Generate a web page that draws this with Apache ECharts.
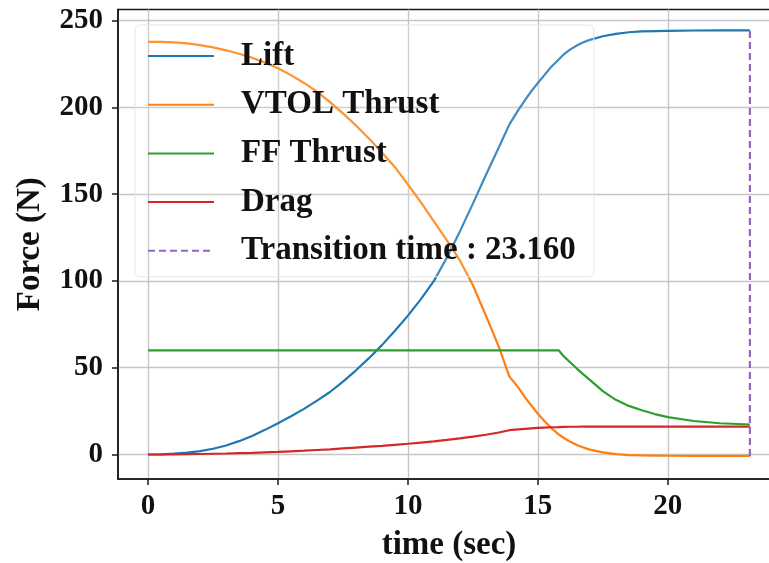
<!DOCTYPE html>
<html>
<head>
<meta charset="utf-8">
<script src="https://cdn.jsdelivr.net/npm/echarts@6/dist/echarts.min.js"></script>
<style>html,body{margin:0;padding:0;background:#fff;}#c{width:769px;height:563px;}</style>
</head>
<body>
<div id="c"></div>
<script>
// time samples (sec)
const time = [0,0.5,1,1.5,2,2.5,3,3.5,4,4.5,5,5.5,6,6.5,7,7.5,8,8.5,9,9.5,10,10.5,11,11.5,12,12.5,13,13.5,
  13.9,14.25,14.5,14.75,15,15.25,15.5,15.8,16,16.25,16.5,16.75,17,
  17.5,18,18.5,19,19.5,20,21,22,23.16];
const lift = [0,0.1,0.5,1.1,2.0,3.3,5.2,7.7,10.7,14.2,18,22,26.3,31,36,42,48.5,55.5,63,71.3,80,89.5,100,113.5,128.5,144.5,161,177,
  190,198.5,204,209.3,214,218.5,223,227.5,230.5,233.3,235.6,237.4,238.8,
  240.9,242.3,243.2,243.7,243.9,244,244.2,244.3,244.3];
const vtolThrust = [237.7,237.6,237.4,236.8,235.8,234.5,232.8,230.8,228.5,225.7,222.5,218.5,214,209,203,196.5,189.5,182,174,165.5,155.5,145.2,134.3,123.3,111.8,97.5,80,62,
  45,38.5,33,28.2,23.5,19.3,15.5,11.6,9.5,7.3,5.5,4,2.8,
  1.2,0.2,-0.3,-0.5,-0.6,-0.7,-0.8,-0.8,-0.8];
const ffThrust = [60,60,60,60,60,60,60,60,60,60,60,60,60,60,60,60,60,60,60,60,60,60,60,60,60,60,60,60,
  60,60,60,60,60,60,60,60,56.5,53,49.5,46.2,43,
  36.5,31.5,28,25.5,23.3,21.5,19.3,18,17.3];
const drag = [0,0.03,0.1,0.2,0.3,0.45,0.6,0.8,1.0,1.25,1.5,1.85,2.2,2.6,3.0,3.5,4.0,4.5,5.0,5.6,6.2,6.9,7.6,8.4,9.3,10.3,11.4,12.7,
  14.0,14.5,14.8,15.1,15.3,15.5,15.7,15.8,15.9,16.0,16.0,16.05,16.1,
  16.1,16.1,16.1,16.1,16.1,16.1,16.1,16.1,16.1];
const transitionTime = 23.16;
const transitionRange = [-0.8, 244.3];
const xTicks = [0,5,10,15,20];
const yTicks = [0,50,100,150,200,250];
const seriesNames = ['Lift','VTOL Thrust','FF Thrust','Drag','Transition time : 23.160'];
const colors = ['#1f77b4','#ff7f0e','#2ca02c','#d62728','#9467bd'];

const pair = arr => time.map((t,i)=>[t, arr[i]]);
const font = 'Liberation Serif';
const chart = echarts.init(document.getElementById('c'), null, {renderer:'canvas'});
const lineSeries = (name, arr, color) => ({
  name, type:'line', data: pair(arr), symbol:'none', showSymbol:false,
  lineStyle:{color, width:2.2}, itemStyle:{color}, animation:false, z:3
});
chart.setOption({
  animation:false,
  backgroundColor:'#fff',
  grid:{left:118, top:9.5, width:662, height:469.5, outerBoundsMode:'none', containLabel:false,
        show:true, borderColor:'#1a1a1a', borderWidth:1.6, backgroundColor:'transparent'},
  xAxis:{
    type:'value', min:-1.158, max:24.318,
    name:'time (sec)', nameLocation:'middle', nameGap:50,
    nameTextStyle:{fontFamily:font, fontWeight:'bold', fontSize:33, color:'#111'},
    axisLine:{show:true, onZero:false, lineStyle:{color:'#1a1a1a', width:1.6}},
    axisTick:{show:true, inside:false, length:6, lineStyle:{color:'#1a1a1a', width:1.5}, customValues:xTicks},
    axisLabel:{fontFamily:font, fontWeight:'bold', fontSize:29, color:'#111', margin:13, customValues:xTicks, formatter:v=>String(v)},
    splitLine:{show:true, lineStyle:{color:'#c6c6c6', width:1.4}}
  },
  yAxis:{
    type:'value', min:-14.1, max:256.3,
    name:'Force (N)', nameLocation:'middle', nameGap:71, nameRotate:90,
    nameTextStyle:{fontFamily:font, fontWeight:'bold', fontSize:33, color:'#111'},
    axisLine:{show:true, onZero:false, lineStyle:{color:'#1a1a1a', width:1.6}},
    axisTick:{show:true, inside:false, length:6, lineStyle:{color:'#1a1a1a', width:1.5}, customValues:yTicks},
    axisLabel:{fontFamily:font, fontWeight:'bold', fontSize:29, color:'#111', margin:15, customValues:yTicks, formatter:v=>String(v)},
    splitLine:{show:true, lineStyle:{color:'#c6c6c6', width:1.4}}
  },
  legend:{
    left:135, top:25, orient:'vertical',
    data:seriesNames,
    itemWidth:66, itemHeight:14, itemGap:15.7,
    padding:[14.5,18,9.5,12],
    backgroundColor:'rgba(255,255,255,0.15)',
    borderColor:'#e6e6e6', borderWidth:1, borderRadius:5,
    itemStyle:{color:'transparent', borderWidth:0, opacity:0},
    textStyle:{fontFamily:font, fontWeight:'bold', fontSize:33, lineHeight:33, color:'#111', padding:[0,0,0,22]}
  },
  series:[
    lineSeries(seriesNames[0], lift, colors[0]),
    lineSeries(seriesNames[1], vtolThrust, colors[1]),
    lineSeries(seriesNames[2], ffThrust, colors[2]),
    lineSeries(seriesNames[3], drag, colors[3]),
    {
      name:seriesNames[4], type:'line', symbol:'none', showSymbol:false,
      data:[[transitionTime, transitionRange[0]],[transitionTime, transitionRange[1]]],
      lineStyle:{color:colors[4], width:2.2, type:[7,4]}, itemStyle:{color:colors[4]}, z:3
    }
  ]
});
</script>
</body>
</html>
